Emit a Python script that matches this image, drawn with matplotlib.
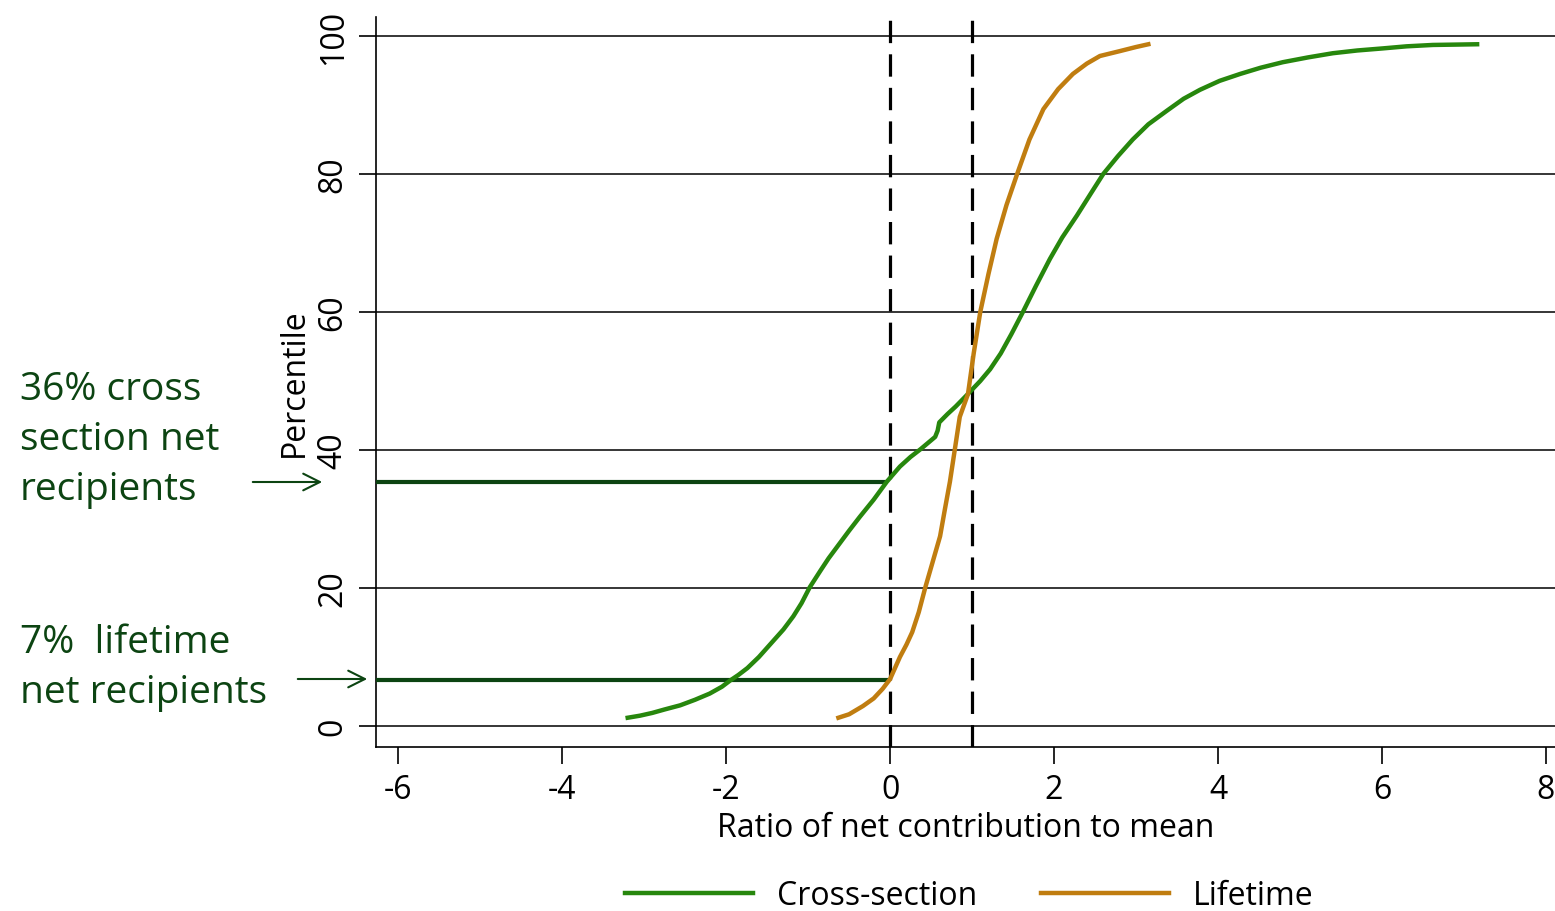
import matplotlib
matplotlib.use("Agg")
import matplotlib.pyplot as plt

plt.rcParams['font.family'] = ['Open Sans', 'DejaVu Sans']

# Cross-section cumulative distribution (ratio, percentile)
cs_x = [-3.20, -3.05, -2.90, -2.75, -2.56, -2.38, -2.20, -2.05, -1.95, -1.85, -1.74,
        -1.60, -1.45, -1.30, -1.18, -1.08, -0.98, -0.85, -0.75, -0.65, -0.50, -0.37,
        -0.20, -0.04, 0.12, 0.25, 0.37, 0.47, 0.55, 0.58, 0.60, 0.70, 0.80, 0.94,
        1.10, 1.22, 1.35, 1.48, 1.62, 1.78, 1.95, 2.10, 2.28, 2.45, 2.60, 2.78, 2.96,
        3.15, 3.38, 3.58, 3.78, 4.02, 4.27, 4.52, 4.79, 5.10, 5.40, 5.70, 6.01, 6.30,
        6.62, 6.90, 7.16]
cs_y = [1.2, 1.5, 1.9, 2.4, 3.0, 3.8, 4.7, 5.7, 6.6, 7.4, 8.4,
        10.0, 12.0, 14.0, 15.9, 17.8, 20.1, 22.5, 24.3, 25.9, 28.3, 30.3,
        32.8, 35.4, 37.6, 39.0, 40.1, 41.1, 41.9, 42.8, 44.0, 45.2, 46.3, 48.0,
        50.0, 51.7, 54.0, 56.8, 60.0, 63.8, 67.7, 70.8, 74.0, 77.2, 80.0, 82.6, 85.0,
        87.2, 89.2, 90.9, 92.2, 93.5, 94.5, 95.4, 96.2, 96.9, 97.5, 97.9, 98.2, 98.5,
        98.7, 98.75, 98.8]

# Lifetime cumulative distribution
lt_x = [-0.63, -0.50, -0.33, -0.20, -0.09, 0.00, 0.06, 0.12, 0.20, 0.27, 0.35, 0.43,
        0.52, 0.61, 0.67, 0.73, 0.79, 0.85, 0.95, 1.02, 1.10, 1.20, 1.30, 1.42, 1.55,
        1.70, 1.87, 2.05, 2.23, 2.40, 2.56, 2.80, 3.00, 3.15]
lt_y = [1.2, 1.7, 2.9, 4.0, 5.4, 6.8, 8.4, 10.0, 11.8, 13.6, 16.5, 20.1,
        23.8, 27.5, 31.5, 35.4, 40.1, 44.8, 48.1, 54.0, 60.0, 65.5, 70.6, 75.5, 80.0,
        85.0, 89.4, 92.3, 94.5, 96.0, 97.1, 97.8, 98.4, 98.8]

series_labels = ["Cross-section", "Lifetime"]
ref_lines = [0, 1]
recip_levels = [35.3, 6.7]
recip_ends = [-0.05, 0.0]
recip_texts = ["36% cross\nsection net\nrecipients", "7%  lifetime\nnet recipients"]
x_ticks = [-6, -4, -2, 0, 2, 4, 6, 8]
y_ticks = [0, 20, 40, 60, 80, 100]

GREEN = "#27870d"
ORANGE = "#c07d10"
DARK = "#0c4412"

fig = plt.figure(figsize=(15.55, 9.12), dpi=100)
ax = fig.add_axes([376/1555, 1 - 748/912, 1 - 376/1555, (748 - 18)/912])
ax.set_xlim(-6.27, 8.11)
ax.set_ylim(-3.04, 102.75)

for yv in y_ticks:
    ax.axhline(yv, color="black", lw=1.1, zorder=1)
for xv in ref_lines:
    ax.axvline(xv, color="black", lw=2.3, ls=(0, (7, 3.5)), zorder=2)

ax.plot(cs_x, cs_y, color=GREEN, lw=3.2, label=series_labels[0], zorder=4)
ax.plot(lt_x, lt_y, color=ORANGE, lw=3.2, label=series_labels[1], zorder=4)

for lvl, xe in zip(recip_levels, recip_ends):
    ax.plot([-6.27, xe], [lvl, lvl], color=DARK, lw=3.0, zorder=3,
            solid_capstyle='butt')

ax.set_xticks(x_ticks)
ax.set_yticks(y_ticks)
ax.set_xticklabels([str(v) for v in x_ticks], fontsize=23)
ax.set_yticklabels([str(v) for v in y_ticks], fontsize=23, rotation=90, va='center')
ax.tick_params(axis='both', direction='out', length=12, width=1.2, color='black', pad=7)
for s in ['top', 'right']:
    ax.spines[s].set_visible(False)
for s in ['left', 'bottom']:
    ax.spines[s].set_linewidth(1.2)
ax.set_xlabel("Ratio of net contribution to mean", fontsize=23, labelpad=3)
ax.set_ylabel("Percentile", fontsize=23, labelpad=4)

ax.legend(loc='center', bbox_to_anchor=(0.503, -0.204), ncol=2, frameon=False,
          fontsize=23, handlelength=4.0, handletextpad=0.75, columnspacing=2.0)

# annotations outside the axes
fig.text(20/1555, 1 - 440/912, recip_texts[0], fontsize=28, color=DARK,
         va='center', ha='left', linespacing=1.4)
fig.text(20/1555, 1 - 668/912, recip_texts[1], fontsize=28, color=DARK,
         va='center', ha='left', linespacing=1.4)
fig.add_artist(matplotlib.patches.FancyArrowPatch(
    (250/1555, 1 - 483/912), (325/1555, 1 - 483/912), transform=fig.transFigure,
    arrowstyle='->,head_length=12,head_width=6', color=DARK, lw=1.5,
    mutation_scale=1))
fig.add_artist(matplotlib.patches.FancyArrowPatch(
    (295/1555, 1 - 680/912), (370/1555, 1 - 680/912), transform=fig.transFigure,
    arrowstyle='->,head_length=12,head_width=6', color=DARK, lw=1.5,
    mutation_scale=1))

fig.savefig("out.png", dpi=100)
